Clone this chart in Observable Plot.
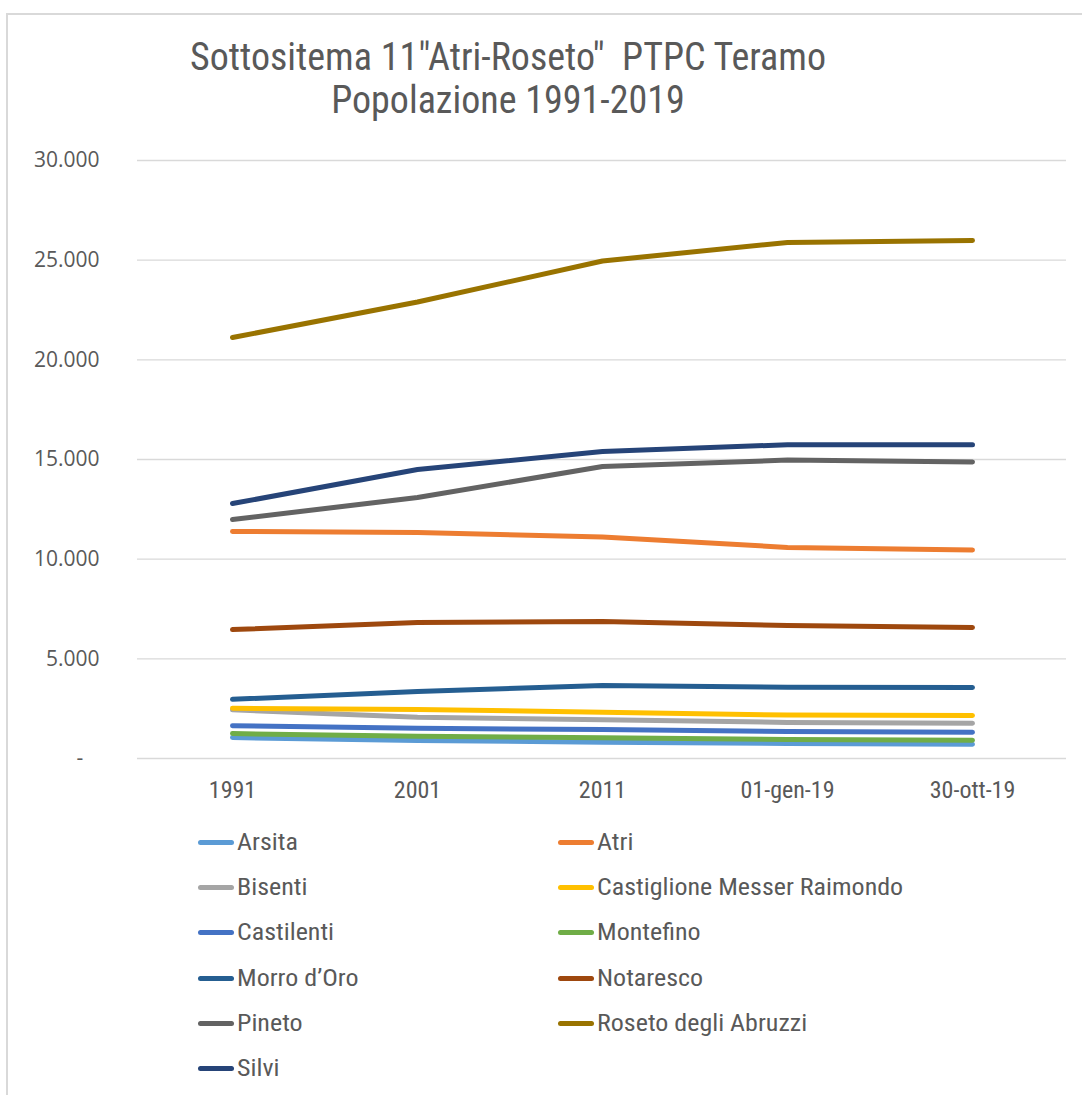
<!DOCTYPE html>
<html>
<head>
<meta charset="utf-8">
<script src="https://cdn.jsdelivr.net/npm/d3@7"></script>
<script src="https://cdn.jsdelivr.net/npm/@observablehq/plot@0.6"></script>
<style>
  html, body { margin: 0; padding: 0; background: #fff; }
  #root { position: relative; width: 1082px; height: 1095px; overflow: hidden; background: #fff; }
  #frame { position: absolute; left: 6px; top: 13px; width: 1100px; height: 1100px; border-left: 2px solid #d9d9d9; border-top: 2px solid #d9d9d9; box-sizing: border-box; }
  .title { position: absolute; left: 0; width: 1016px; text-align: center; color: #595959; font-family: "Liberation Sans Narrow", "Roboto Condensed", "Open Sans", sans-serif; font-size: 38px; white-space: pre; }
  #chart { position: absolute; left: 0; top: 130px; }
  .leg { position: absolute; display: flex; align-items: center; font-family: "Liberation Sans Narrow", "Roboto Condensed", "Open Sans", sans-serif; font-size: 23px; color: #595959; white-space: nowrap; }
  .leg .sw { width: 36px; height: 5px; border-radius: 3px; margin-right: 3px; }
  .leg span { display: inline-block; transform: scaleX(1.13); transform-origin: left center; }
</style>
</head>
<body>
<div id="root">
  <div id="frame"></div>
  <div class="title" style="top:35px">Sottositema 11"Atri-Roseto"  PTPC Teramo</div>
  <div class="title" style="top:78px">Popolazione 1991-2019</div>
  <div id="chart"></div>
  <div id="legend"></div>
</div>
<script>
const categories = ["1991", "2001", "2011", "01-gen-19", "30-ott-19"];
const seriesNames = ["Arsita", "Atri", "Bisenti", "Castiglione Messer Raimondo", "Castilenti", "Montefino", "Morro d\u2019Oro", "Notaresco", "Pineto", "Roseto degli Abruzzi", "Silvi"];
const seriesColors = ["#5B9BD5", "#ED7D31", "#A5A5A5", "#FFC000", "#4472C4", "#70AD47", "#255E91", "#9E480E", "#636363", "#997300", "#264478"];
const arsita      = [1050, 900, 820, 750, 720];
const atri        = [11390, 11340, 11110, 10590, 10460];
const bisenti     = [2440, 2070, 1940, 1810, 1770];
const castiglione = [2520, 2460, 2320, 2180, 2160];
const castilenti  = [1640, 1520, 1450, 1350, 1320];
const montefino   = [1250, 1120, 1040, 950, 920];
const morro       = [2970, 3360, 3660, 3580, 3560];
const notaresco   = [6470, 6820, 6870, 6670, 6570];
const pineto      = [11990, 13090, 14650, 14970, 14880];
const roseto      = [21120, 22900, 24960, 25890, 25990];
const silvi       = [12790, 14500, 15400, 15740, 15740];
const yTicks = [0, 5000, 10000, 15000, 20000, 25000, 30000];

const seriesValues = [arsita, atri, bisenti, castiglione, castilenti, montefino, morro, notaresco, pineto, roseto, silvi];
const rows = [];
seriesNames.forEach((name, i) => {
  categories.forEach((c, j) => rows.push({ series: name, cat: c, value: seriesValues[i][j] }));
});

const itFmt = d3.formatLocale({ decimal: ",", thousands: ".", grouping: [3], currency: ["", ""] }).format(",");

const chart = Plot.plot({
  width: 1082,
  height: 678,
  marginLeft: 137,
  marginRight: 16,
  marginTop: 30,
  marginBottom: 50,
  style: { fontFamily: "'Open Sans', sans-serif", color: "#595959", background: "transparent", overflow: "visible" },
  x: { type: "point", domain: categories, padding: 0.5, label: null },
  y: { domain: [0, 30000], label: null },
  color: { domain: seriesNames, range: seriesColors },
  marks: [
    Plot.gridY(yTicks, { stroke: "#d9d9d9", strokeOpacity: 1, strokeWidth: 1.3 }),
    Plot.axisY(yTicks, { tickSize: 0, tickPadding: 38, fontSize: 21, fill: "#595959", tickFormat: d => d === 0 ? "-\u00a0\u00a0\u00a0" : itFmt(d), label: null }),
    Plot.axisX({ tickSize: 0, tickPadding: 22, fontSize: 24, fill: "#595959", fontFamily: "'Liberation Sans Narrow', 'Roboto Condensed', 'Open Sans', sans-serif", label: null }),
    Plot.line(rows, { x: "cat", y: "value", z: "series", stroke: "series", strokeWidth: 5, strokeLinecap: "round", strokeLinejoin: "round" })
  ]
});
document.getElementById("chart").appendChild(chart);

const legend = document.getElementById("legend");
seriesNames.forEach((name, i) => {
  const col = i % 2, row = Math.floor(i / 2);
  const el = document.createElement("div");
  el.className = "leg";
  el.style.left = (col === 0 ? 198 : 558) + "px";
  el.style.top = (829 + row * 45.2) + "px";
  el.innerHTML = `<div class="sw" style="background:${seriesColors[i]}"></div><span>${name}</span>`;
  legend.appendChild(el);
});
</script>
</body>
</html>
